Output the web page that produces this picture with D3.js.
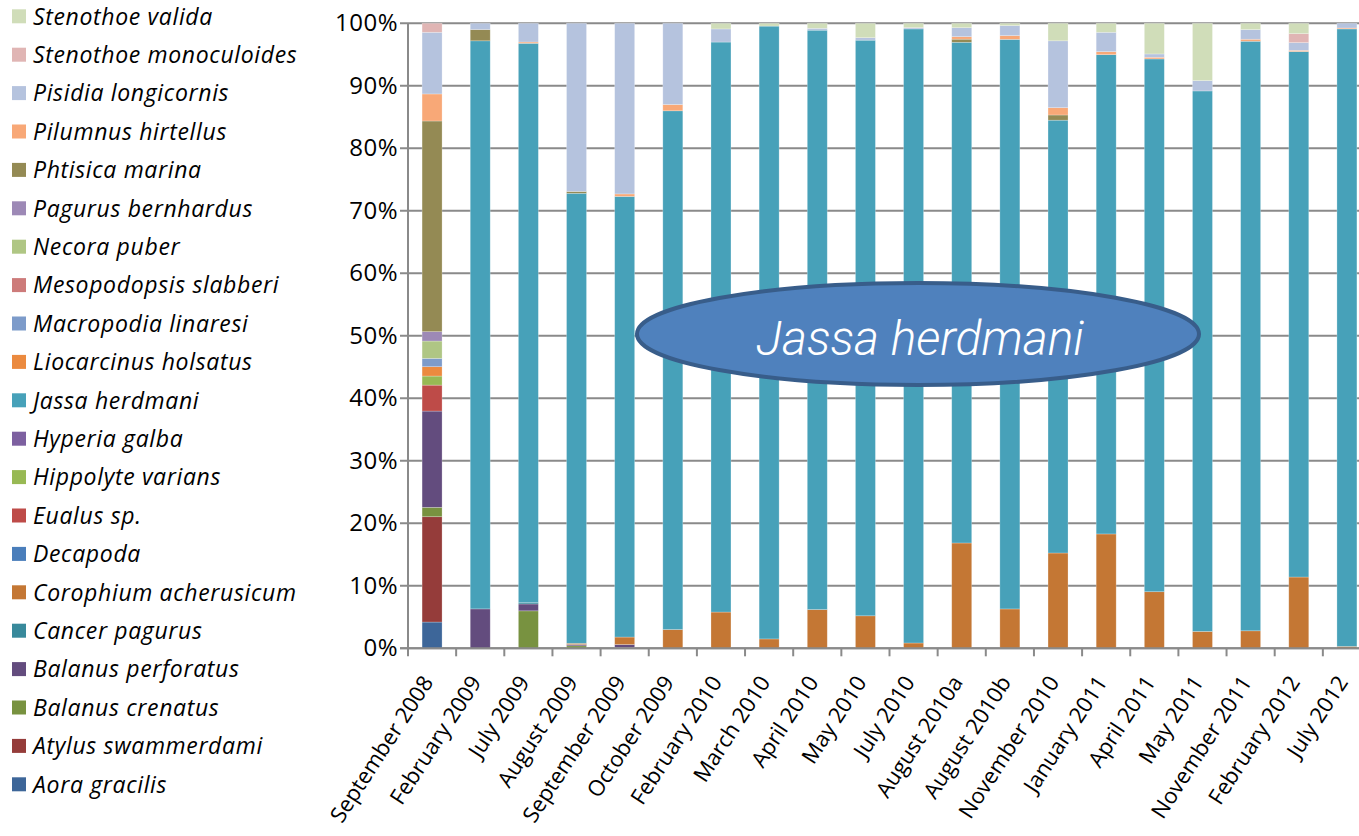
<!DOCTYPE html>
<html>
<head>
<meta charset="utf-8">
<script src="https://cdn.jsdelivr.net/npm/d3@7"></script>
<style>
  html, body { margin: 0; padding: 0; background: #ffffff; }
  svg { display: block; }
  text { font-family: "Open Sans", "Noto Sans", sans-serif; fill: #000; }
</style>
</head>
<body>
<svg id="chart" width="1359" height="836"></svg>
<script>
// Sampling dates (x categories)
const categories = [
  "September 2008", "February 2009", "July 2009", "August 2009", "September 2009",
  "October 2009", "February 2010", "March 2010", "April 2010", "May 2010",
  "July 2010", "August 2010a", "August 2010b", "November 2010", "January 2011",
  "April 2011", "May 2011", "November 2011", "February 2012", "July 2012"
];

// Relative abundance (%) per species, one value per sampling date
const aoraGracilis          = [4.2, 0, 0, 0, 0, 0, 0, 0, 0, 0, 0, 0, 0, 0, 0, 0, 0, 0, 0, 0];
const atylusSwammerdami     = [16.85, 0, 0, 0, 0, 0, 0, 0, 0, 0, 0, 0, 0, 0, 0, 0, 0, 0, 0, 0];
const balanusCrenatus       = [1.5, 0, 6.0, 0.4, 0.1, 0, 0, 0, 0, 0, 0, 0, 0, 0, 0, 0, 0, 0, 0, 0];
const balanusPerforatus     = [15.4, 6.3, 1.1, 0.2, 0.5, 0, 0, 0, 0, 0, 0, 0, 0, 0, 0, 0, 0, 0, 0, 0];
const cancerPagurus         = [0, 0, 0.2, 0, 0, 0, 0, 0, 0, 0, 0, 0, 0, 0, 0, 0, 0, 0, 0, 0];
const corophiumAcherusicum  = [0, 0, 0, 0.2, 1.2, 3.0, 5.8, 1.5, 6.2, 5.2, 0.85, 16.85, 6.3, 15.25, 18.3, 9.05, 2.7, 2.8, 11.4, 0.3];
const decapoda              = [0, 0, 0, 0, 0, 0, 0, 0, 0, 0, 0, 0, 0, 0, 0, 0, 0, 0, 0, 0];
const eualusSp              = [4.15, 0, 0, 0, 0, 0, 0, 0, 0, 0, 0, 0, 0, 0, 0, 0, 0, 0, 0, 0];
const hippolyteVarians      = [1.45, 0, 0, 0, 0, 0, 0, 0, 0, 0, 0, 0, 0, 0, 0, 0, 0, 0, 0, 0];
const hyperiaGalba          = [0, 0, 0, 0, 0, 0, 0, 0, 0, 0, 0, 0, 0, 0, 0, 0, 0, 0, 0, 0];
const jassaHerdmani         = [0, 90.8, 89.6, 72.0, 70.5, 83.0, 91.2, 98.05, 92.7, 92.1, 98.3, 80.1, 91.15, 69.25, 76.7, 85.2, 86.45, 94.3, 84.05, 98.8];
const liocarcinusHolsatus   = [1.5, 0, 0, 0, 0, 0, 0, 0, 0, 0, 0, 0, 0, 0, 0, 0, 0, 0, 0, 0];
const macropodiaLinaresi    = [1.33, 0, 0, 0, 0, 0, 0, 0, 0, 0, 0, 0, 0, 0, 0, 0, 0, 0, 0, 0];
const mesopodopsisSlabberi  = [0, 0, 0, 0, 0, 0, 0, 0, 0, 0, 0, 0, 0, 0, 0, 0, 0, 0, 0, 0];
const necoraPuber           = [2.77, 0, 0, 0, 0, 0, 0, 0, 0, 0, 0, 0, 0, 0, 0, 0, 0, 0, 0, 0];
const pagurusBernhardus     = [1.5, 0, 0, 0, 0, 0, 0, 0, 0, 0, 0, 0, 0, 0, 0, 0, 0, 0, 0, 0];
const phtisicaMarina        = [33.7, 1.8, 0, 0.3, 0, 0, 0, 0, 0, 0, 0, 0.5, 0, 0.83, 0, 0, 0, 0, 0, 0];
const pilumnusHirtellus     = [4.33, 0, 0.2, 0, 0.4, 1.0, 0, 0, 0, 0, 0, 0.4, 0.6, 1.17, 0.48, 0.27, 0, 0.32, 0.2, 0.15];
const pisidiaLongicornis    = [9.86, 1.0, 3.0, 26.9, 27.3, 13.0, 2.1, 0, 0.3, 0.4, 0.2, 1.44, 1.6, 10.7, 3.1, 0.53, 1.65, 1.55, 1.23, 0.75];
const stenothoeMonoculoides = [1.44, 0, 0, 0, 0, 0, 0, 0, 0, 0, 0, 0, 0, 0, 0, 0, 0, 0, 1.44, 0];
const stenothoeValida       = [0, 0, 0, 0, 0, 0, 0.9, 0.45, 0.8, 2.3, 0.7, 0.7, 0.37, 2.8, 1.44, 4.9, 9.17, 1.0, 1.65, 0];

// Species in stacking order (bottom to top) with their fill colours
const species = [
  { name: "Aora gracilis",          values: aoraGracilis,          color: "#3d6699" },
  { name: "Atylus swammerdami",     values: atylusSwammerdami,     color: "#953c3a" },
  { name: "Balanus crenatus",       values: balanusCrenatus,       color: "#789240" },
  { name: "Balanus perforatus",     values: balanusPerforatus,     color: "#634c7e" },
  { name: "Cancer pagurus",         values: cancerPagurus,         color: "#38899b" },
  { name: "Corophium acherusicum",  values: corophiumAcherusicum,  color: "#c47734" },
  { name: "Decapoda",               values: decapoda,              color: "#4a7ebb" },
  { name: "Eualus sp.",             values: eualusSp,              color: "#be4b48" },
  { name: "Hippolyte varians",      values: hippolyteVarians,      color: "#98b954" },
  { name: "Hyperia galba",          values: hyperiaGalba,          color: "#7d60a0" },
  { name: "Jassa herdmani",         values: jassaHerdmani,         color: "#47a1b9" },
  { name: "Liocarcinus holsatus",   values: liocarcinusHolsatus,   color: "#eb8a3f" },
  { name: "Macropodia linaresi",    values: macropodiaLinaresi,    color: "#7d9bca" },
  { name: "Mesopodopsis slabberi",  values: mesopodopsisSlabberi,  color: "#cd7b7a" },
  { name: "Necora puber",           values: necoraPuber,           color: "#afc684" },
  { name: "Pagurus bernhardus",     values: pagurusBernhardus,     color: "#9d89b6" },
  { name: "Phtisica marina",        values: phtisicaMarina,        color: "#948a54" },
  { name: "Pilumnus hirtellus",     values: pilumnusHirtellus,     color: "#f8a877" },
  { name: "Pisidia longicornis",    values: pisidiaLongicornis,    color: "#b5c3de" },
  { name: "Stenothoe monoculoides", values: stenothoeMonoculoides, color: "#e0b5b4" },
  { name: "Stenothoe valida",       values: stenothoeValida,       color: "#d0ddb9" }
];

const yTicks = [0, 0.1, 0.2, 0.3, 0.4, 0.5, 0.6, 0.7, 0.8, 0.9, 1.0];
const calloutLabel = "Jassa herdmani";

// ---- layout ----
const svg = d3.select("#chart");
const W = 1359;
const plot = { left: 408, top: 23.3, bottom: 648.3, step: 48.15 };
plot.right = plot.left + plot.step * categories.length;

const x = d3.scaleBand()
  .domain(categories)
  .range([plot.left, plot.right])
  .paddingInner(0.585)
  .paddingOuter(0.2925);

const y = d3.scaleLinear().domain([0, 1]).range([plot.bottom, plot.top]);

// table for d3.stack
const rows = categories.map((c, i) => {
  const r = { category: c };
  species.forEach(s => { r[s.name] = s.values[i]; });
  return r;
});
const stacked = d3.stack()
  .keys(species.map(s => s.name))
  .offset(d3.stackOffsetExpand)(rows);

const colorOf = d3.scaleOrdinal()
  .domain(species.map(s => s.name))
  .range(species.map(s => s.color));

// ---- gridlines ----
const gridColor = "#8a8a8a";
svg.append("g").attr("class", "grid")
  .selectAll("line").data(yTicks).join("line")
  .attr("x1", plot.left - 8).attr("x2", W)
  .attr("y1", d => y(d)).attr("y2", d => y(d))
  .attr("stroke", gridColor).attr("stroke-width", 2);

// ---- bars ----
svg.append("g").attr("class", "bars")
  .selectAll("g").data(stacked).join("g")
  .attr("fill", d => colorOf(d.key))
  .selectAll("rect").data(d => d).join("rect")
  .attr("x", d => x(d.data.category))
  .attr("width", x.bandwidth())
  .attr("y", d => y(d[1]))
  .attr("height", d => Math.max(0, y(d[0]) - y(d[1])))
  .attr("stroke", "#ffffff")
  .attr("stroke-opacity", 0.35)
  .attr("stroke-width", 0.7);

// ---- y axis ----
svg.append("line")
  .attr("x1", plot.left).attr("x2", plot.left)
  .attr("y1", plot.top).attr("y2", plot.bottom)
  .attr("stroke", gridColor).attr("stroke-width", 2);

const yAxis = d3.axisLeft(y).tickValues(yTicks).tickFormat(d3.format(".0%")).tickSize(0).tickPadding(10);
const gy = svg.append("g").attr("transform", `translate(${plot.left},0)`).call(yAxis);
gy.select(".domain").remove();
gy.selectAll("text")
  .style("font-family", '"Open Sans", sans-serif')
  .style("font-size", "24px")
  .style("letter-spacing", "0.5px")
  .attr("fill", "#000");

// ---- x axis ----
svg.append("line")
  .attr("x1", plot.left - 8).attr("x2", W)
  .attr("y1", plot.bottom).attr("y2", plot.bottom)
  .attr("stroke", gridColor).attr("stroke-width", 2);

const boundaries = d3.range(categories.length + 1).map(i => plot.left + i * x.step());
svg.append("g").selectAll("line").data(boundaries).join("line")
  .attr("x1", d => d).attr("x2", d => d)
  .attr("y1", plot.bottom).attr("y2", plot.bottom + 8)
  .attr("stroke", gridColor).attr("stroke-width", 2);

svg.append("g").attr("class", "xlabels")
  .selectAll("text").data(categories).join("text")
  .attr("transform", d => `translate(${x(d) + x.bandwidth() / 2 + 2},${plot.bottom + 34}) rotate(-57)`)
  .attr("text-anchor", "end")
  .style("font-size", "22px")
  .text(d => d);

// ---- legend (top entry = last stacked species) ----
const legendItems = species.slice().reverse();
const lg = svg.append("g").attr("class", "legend");
const li = lg.selectAll("g").data(legendItems).join("g")
  .attr("transform", (d, i) => `translate(12,${9.3 + i * 38.4})`);
li.append("rect").attr("width", 14).attr("height", 14).attr("fill", d => d.color);
li.append("text")
  .attr("x", 21).attr("y", 7).attr("dy", "0.36em")
  .style("font-size", "23px")
  .style("letter-spacing", "0.65px")
  .style("font-style", "italic")
  .text(d => d.name);

// ---- callout ellipse ----
const callout = svg.append("g").attr("class", "callout");
callout.append("ellipse")
  .attr("cx", 918).attr("cy", 334).attr("rx", 281).attr("ry", 51)
  .attr("fill", "#4f81bd").attr("stroke", "#385d8a").attr("stroke-width", 4);
callout.append("text")
  .attr("x", 920).attr("y", 355)
  .attr("text-anchor", "middle")
  .style("font-family", "Roboto, sans-serif")
  .style("font-weight", 300)
  .style("font-style", "italic")
  .style("font-size", "48px")
  .style("fill", "#ffffff")
  .text(calloutLabel);
</script>
</body>
</html>
